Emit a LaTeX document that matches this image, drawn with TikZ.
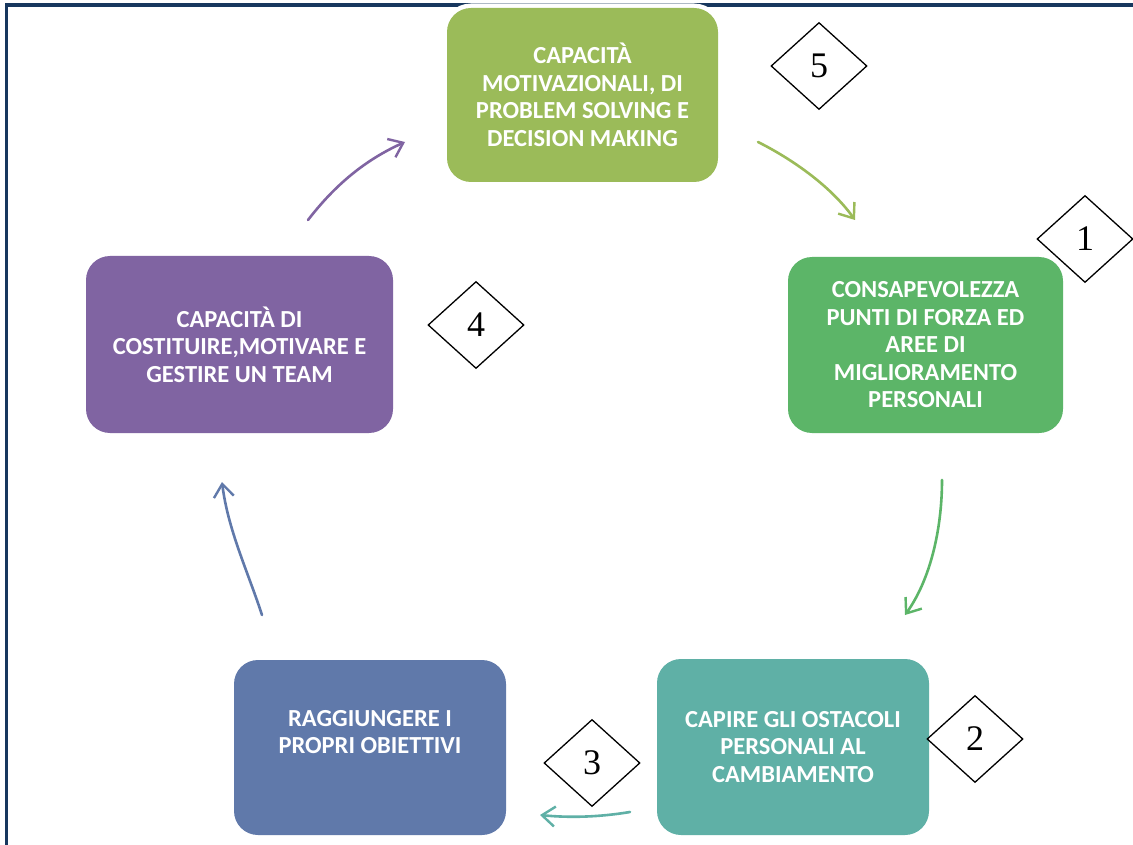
\documentclass[tikz,border=0pt]{standalone}
\usepackage{fontspec}
\setmainfont{Carlito}
\newfontfamily\numfont{Liberation Serif}
\usetikzlibrary{shapes.geometric,arrows.meta}
\definecolor{cTop}{HTML}{9BBB59}
\definecolor{cRight}{HTML}{5CB568}
\definecolor{cTeal}{HTML}{5FB0A6}
\definecolor{cBlue}{HTML}{6079AA}
\definecolor{cPurple}{HTML}{8064A2}
\definecolor{cFrame}{HTML}{17375E}
\begin{document}
\begin{tikzpicture}[x=1pt,y=-1pt,
  stepbox/.style={rectangle, rounded corners=24pt, fill=#1, text=white,
    font=\bfseries\fontsize{24.5}{27.5}\selectfont, align=center, inner sep=0pt,
    preaction={draw=white, line width=9pt}},
  numbox/.style={diamond, draw=black, line width=1.3pt, fill=white,
    minimum width=96pt, minimum height=87pt, inner sep=0pt,
    font=\numfont\fontsize{36}{36}\selectfont},
  arr/.style={line width=2.6pt, line cap=round, -{Straight Barb[length=13pt,width=20pt,line width=2.4pt]}}]
\useasboundingbox (0,0) rectangle (1133,845);
\fill[white] (0,0) rectangle (1133,845);
% frame
\draw[cFrame, line width=3.5pt] (6.5,845) -- (6.5,5) -- (1133,5);
% boxes
\node[stepbox=cTop, minimum width=271pt, minimum height=174pt] (top) at (582.5,95)
  {CAPACITÀ\\MOTIVAZIONALI, DI\\PROBLEM SOLVING E\\DECISION MAKING};
\node[stepbox=cRight, minimum width=275pt, minimum height=176pt] (right) at (925.5,345)
  {CONSAPEVOLEZZA\\PUNTI DI FORZA ED\\AREE DI\\MIGLIORAMENTO\\PERSONALI};
\node[stepbox=cTeal, minimum width=272pt, minimum height=176pt] (teal) at (793,747)
  {CAPIRE GLI OSTACOLI\\PERSONALI AL\\CAMBIAMENTO};
\node[stepbox=cBlue, minimum width=272pt, minimum height=175pt] (blue) at (370,747.5)
  {RAGGIUNGERE I\\PROPRI OBIETTIVI\\[4pt]};
\node[stepbox=cPurple, minimum width=307pt, minimum height=177pt] (purple) at (239.5,344.5)
  {CAPACITÀ DI\\COSTITUIRE,MOTIVARE E\\GESTIRE UN TEAM};
% diamonds
\node[numbox] (n5) at (819,66) {5};
\node[numbox] (n1) at (1085,239) {1};
\node[numbox] (n4) at (476,325) {4};
\node[numbox] (n2) at (975,739) {2};
\node[numbox] (n3) at (592,763) {3};
% arrows
\coordinate (a1s) at (308,220); \coordinate (a1e) at (405,142);
\draw[arr, cPurple] (a1s) .. controls (335,185) and (365,160) .. (a1e);
\coordinate (a2s) at (758,142); \coordinate (a2e) at (855,220);
\draw[arr, cTop] (a2s) .. controls (790,158) and (830,185) .. (a2e);
\coordinate (a3s) at (942,480); \coordinate (a3e) at (905,615);
\draw[arr, cRight] (a3s) .. controls (942,530) and (930,580) .. (a3e);
\coordinate (a4s) at (630,812); \coordinate (a4e) at (540,815);
\draw[arr, cTeal] (a4s) .. controls (600,817) and (570,818) .. (a4e);
\coordinate (a5s) at (262,615); \coordinate (a5e) at (222,482);
\draw[arr, cBlue] (a5s) .. controls (248,572) and (228,530) .. (a5e);
\end{tikzpicture}
\end{document}
